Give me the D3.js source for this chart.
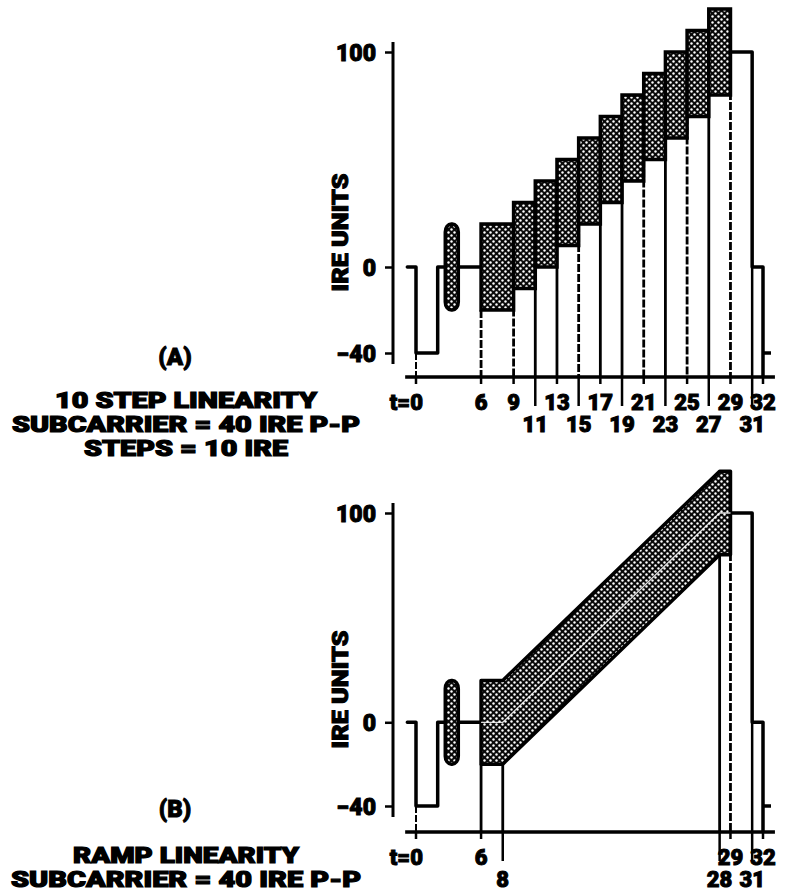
<!DOCTYPE html>
<html>
<head>
<meta charset="utf-8">
<script src="https://cdn.jsdelivr.net/npm/d3@7"></script>
<style>
  body { margin: 0; background: #fff; }
  svg text { font-family: "Roboto", "Liberation Sans", sans-serif; font-weight: 900; fill: #000; }
</style>
</head>
<body>
<script>
// time axis (microseconds) and IRE levels
const stepTimes = [6, 9, 11, 13, 15, 17, 19, 21, 23, 25, 27, 29];
const stepLevels = [0, 10, 20, 30, 40, 50, 60, 70, 80, 90, 100];
const subcarrierPP = 40;
const syncTimes = [0, 2];
const syncLevel = -40;
const burstTimes = [2.7, 3.9];
const whiteBarTimes = [29, 31];
const whiteLevel = 100;
const rampTimes = [6, 8, 28, 29];
const rampLevels = [0, 0, 100, 100];

const yTicks = [-40, 0, 100];
const ticksA_row1 = [0, 6, 9, 13, 17, 21, 25, 29, 32];
const ticksA_row2 = [11, 15, 19, 23, 27, 31];
const ticksB_row1 = [0, 6, 29, 32];
const ticksB_row2 = [8, 28, 31];
const dashedA = [0, 6, 9, 15, 21, 25, 29];

const captionA = ['(A)', '10 STEP LINEARITY', 'SUBCARRIER = 40 IRE P-P', 'STEPS = 10 IRE'];
const captionB = ['(B)', 'RAMP LINEARITY', 'SUBCARRIER = 40 IRE P-P'];

const W = 786, H = 893;
const half = subcarrierPP / 2;

const svg = d3.select('body').append('svg')
  .attr('width', W)
  .attr('height', H);

const defs = svg.append('defs');
const pat = defs.append('pattern')
  .attr('id', 'dots')
  .attr('width', 6).attr('height', 6)
  .attr('patternUnits', 'userSpaceOnUse');
pat.append('rect').attr('width', 6).attr('height', 6).attr('fill', '#0a0a0a');
pat.append('circle').attr('cx', 1.5).attr('cy', 1.5).attr('r', 1.2).attr('fill', '#fff');
pat.append('circle').attr('cx', 4.5).attr('cy', 4.5).attr('r', 1.2).attr('fill', '#fff');

const x = d3.scaleLinear().domain([0, 32]).range([416, 763]);
const yA = d3.scaleLinear().domain([-40, 100]).range([353, 52]);
const yB = d3.scaleLinear().domain([-40, 100]).range([806, 513]);

const line = d3.line();

function drawFrame(g, y, axisY, row1, row2, labelY) {
  // y axis
  g.append('line')
    .attr('x1', 393).attr('x2', 393)
    .attr('y1', y(100) - 10).attr('y2', y(-40) + 11)
    .attr('stroke', '#000').attr('stroke-width', 3);
  const yAxis = g.append('g')
    .attr('transform', 'translate(393,0)')
    .call(d3.axisLeft(y).tickValues(yTicks).tickSize(8).tickFormat(d => d < 0 ? '\u2212' + Math.abs(d) : d));
  yAxis.select('.domain').remove();
  yAxis.selectAll('.tick line').attr('stroke', '#000').attr('stroke-width', 2.5);
  yAxis.selectAll('.tick text')
    .attr('x', -17)
    .attr('dy', '0.36em')
    .style('font-size', '23px')
    .attr('stroke', '#000').attr('stroke-width', 1);

  // x axis
  g.append('line')
    .attr('x1', x(-1)).attr('x2', x(33.1))
    .attr('y1', axisY).attr('y2', axisY)
    .attr('stroke', '#000').attr('stroke-width', 3.5);
  g.selectAll('.tk1').data(row1).join('line')
    .attr('x1', d => x(d)).attr('x2', d => x(d))
    .attr('y1', axisY).attr('y2', axisY + 7)
    .attr('stroke', '#000').attr('stroke-width', 2.5);
  g.selectAll('.tk2').data(row2).join('line')
    .attr('x1', d => x(d)).attr('x2', d => x(d))
    .attr('y1', axisY).attr('y2', axisY + 29)
    .attr('stroke', '#000').attr('stroke-width', 2.5);
  g.selectAll('.lb1').data(row1).join('text')
    .attr('x', d => d === 0 ? x(d) + 7 : x(d))
    .attr('y', labelY)
    .attr('text-anchor', d => d === 0 ? 'end' : 'middle')
    .style('font-size', '22px')
    .attr('stroke', '#000').attr('stroke-width', 1)
    .text(d => d === 0 ? 't=0' : d);
  g.selectAll('.lb2').data(row2).join('text')
    .attr('x', d => x(d))
    .attr('y', labelY + 22)
    .attr('text-anchor', 'middle')
    .style('font-size', '22px')
    .attr('stroke', '#000').attr('stroke-width', 1)
    .text(d => d);

  // IRE UNITS
  g.append('text')
    .attr('transform', `translate(348,${(y(100) + y(-40)) / 2 + 30}) rotate(-90)`)
    .attr('text-anchor', 'middle')
    .style('font-size', '22px')
    .attr('textLength', 118).attr('lengthAdjust', 'spacingAndGlyphs')
    .attr('stroke', '#000').attr('stroke-width', 1)
    .text('IRE UNITS');
}

function drawPorchAndSync(g, y, axisY) {
  // front porch, sync tip, breezeway
  g.append('path')
    .attr('d', line([[x(-0.8), y(0)], [x(0), y(0)], [x(0), y(syncLevel)],
      [x(syncTimes[1]), y(syncLevel)], [x(syncTimes[1]), y(0)], [x(6), y(0)]]))
    .attr('fill', 'none').attr('stroke', '#000').attr('stroke-width', 3.5)
    .attr('stroke-linecap', 'round').attr('stroke-linejoin', 'round');
  // projection from sync edge
  g.append('line')
    .attr('x1', x(0)).attr('x2', x(0))
    .attr('y1', y(syncLevel)).attr('y2', axisY)
    .attr('stroke', '#000').attr('stroke-width', 2).attr('stroke-dasharray', '7,2');
  // color burst
  g.append('rect')
    .attr('x', x(burstTimes[0])).attr('width', x(burstTimes[1]) - x(burstTimes[0]))
    .attr('y', y(half)).attr('height', y(-half) - y(half))
    .attr('rx', 6).attr('ry', 8)
    .attr('fill', 'url(#dots)').attr('stroke', '#000').attr('stroke-width', 3.5);
}

function drawTail(g, y, axisY) {
  // white bar, back to blanking, then next sync
  g.append('path')
    .attr('d', line([[x(whiteBarTimes[0]), y(whiteLevel)], [x(whiteBarTimes[1]), y(whiteLevel)],
      [x(whiteBarTimes[1]), y(0)], [x(32), y(0)], [x(32), axisY]]))
    .attr('fill', 'none').attr('stroke', '#000').attr('stroke-width', 3.5)
    .attr('stroke-linejoin', 'round');
  g.append('line')
    .attr('x1', x(whiteBarTimes[1])).attr('x2', x(whiteBarTimes[1]))
    .attr('y1', y(0)).attr('y2', axisY)
    .attr('stroke', '#000').attr('stroke-width', 2.5);
  g.append('line')
    .attr('x1', x(32)).attr('x2', x(32) + 8)
    .attr('y1', y(syncLevel)).attr('y2', y(syncLevel))
    .attr('stroke', '#000').attr('stroke-width', 3.5);
}

// ---------- panel A : 10 step ----------
const gA = svg.append('g');
drawFrame(gA, yA, 377, ticksA_row1, ticksA_row2, 410);

// projection lines at every step edge
const edgesA = stepTimes.map((t, i) => ({
  t: t,
  top: i < stepLevels.length ? stepLevels[i] - half : whiteLevel
}));
gA.selectAll('.proj').data(edgesA).join('line')
  .attr('x1', d => x(d.t)).attr('x2', d => x(d.t))
  .attr('y1', d => yA(d.top)).attr('y2', 377)
  .attr('stroke', '#000').attr('stroke-width', 2.8)
  .attr('stroke-dasharray', d => dashedA.includes(d.t) ? '8,2' : null);

drawPorchAndSync(gA, yA, 377);
drawTail(gA, yA, 377);

const stepsA = stepLevels.map((lv, i) => ({ t0: stepTimes[i], t1: stepTimes[i + 1], level: lv }));
gA.selectAll('.step').data(stepsA).join('rect')
  .attr('x', d => x(d.t0)).attr('width', d => x(d.t1) - x(d.t0))
  .attr('y', d => yA(d.level + half)).attr('height', d => yA(d.level - half) - yA(d.level + half))
  .attr('fill', 'url(#dots)').attr('stroke', '#000').attr('stroke-width', 3.5);

// ---------- panel B : ramp ----------
const gB = svg.append('g');
drawFrame(gB, yB, 832, ticksB_row1, ticksB_row2, 865);

gB.selectAll('.proj').data([rampTimes[0], rampTimes[1]]).join('line')
  .attr('x1', d => x(d)).attr('x2', d => x(d))
  .attr('y1', yB(-half)).attr('y2', 832)
  .attr('stroke', '#000').attr('stroke-width', 2.8);
gB.append('line')
  .attr('x1', x(rampTimes[2])).attr('x2', x(rampTimes[2]))
  .attr('y1', yB(rampLevels[2] - half)).attr('y2', 832)
  .attr('stroke', '#000').attr('stroke-width', 2.8);
gB.append('line')
  .attr('x1', x(rampTimes[3])).attr('x2', x(rampTimes[3]))
  .attr('y1', yB(whiteLevel)).attr('y2', 832)
  .attr('stroke', '#000').attr('stroke-width', 2.8).attr('stroke-dasharray', '8,2');

drawPorchAndSync(gB, yB, 832);
drawTail(gB, yB, 832);

const upper = rampTimes.map((t, i) => [x(t), yB(rampLevels[i] + half)]);
const lower = rampTimes.map((t, i) => [x(t), yB(rampLevels[i] - half)]).reverse();
gB.append('path')
  .attr('d', line(upper.concat(lower)) + 'Z')
  .attr('fill', 'url(#dots)').attr('stroke', '#000').attr('stroke-width', 3.5)
  .attr('stroke-linejoin', 'round');
gB.append('path')
  .attr('d', line(rampTimes.map((t, i) => [x(t), yB(rampLevels[i])])))
  .attr('fill', 'none').attr('stroke', '#fff').attr('stroke-width', 1.3).attr('opacity', 0.85);

// ---------- captions ----------
function caption(lines, top, baselines, widths) {
  svg.append('text')
    .attr('x', 175).attr('y', top)
    .attr('text-anchor', 'middle')
    .style('font-size', '24px')
    .attr('stroke', '#000').attr('stroke-width', 1)
    .text(lines[0]);
  lines.slice(1).forEach((s, i) => {
    svg.append('text')
      .attr('x', 186).attr('y', baselines[i])
      .attr('text-anchor', 'middle')
      .style('font-size', '22px')
      .attr('textLength', widths[i]).attr('lengthAdjust', 'spacingAndGlyphs')
      .attr('stroke', '#000').attr('stroke-width', 1.2)
      .text(s);
  });
}
caption(captionA, 365, [408, 432, 456], [262, 348, 204]);
caption(captionB, 817, [863, 887], [226, 350]);
</script>
</body>
</html>
